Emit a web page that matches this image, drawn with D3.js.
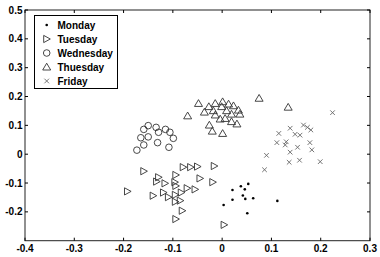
<!DOCTYPE html>
<html><head><meta charset="utf-8">
<script src="https://cdn.jsdelivr.net/npm/d3@7"></script>
<style>body{margin:0;background:#fff}svg{display:block}text{font-family:"Liberation Sans",Arial,sans-serif;font-weight:bold}</style>
</head><body><svg id="c" width="380" height="257"></svg>
<script>
const seriesNames = ["Monday","Tuesday","Wednesday","Thuesday","Friday"];
const xTicks = [-0.4,-0.3,-0.2,-0.1,0,0.1,0.2,0.3];
const yTicks = [-0.2,-0.1,0,0.1,0.2,0.3,0.4,0.5];

const mondayX = [0.053,0.038,0.021,0.046,0.042,0.021,0.047,0.063,0.003,0.112,0.051];
const mondayY = [-0.103,-0.111,-0.124,-0.122,-0.143,-0.158,-0.155,-0.153,-0.176,-0.162,-0.205];

const tuesdayX = [-0.159,-0.192,-0.129,-0.133,-0.116,-0.094,-0.096,-0.094,-0.079,-0.064,-0.050,-0.016,-0.045,-0.019,-0.140,-0.119,-0.109,-0.095,-0.083,-0.071,-0.055,-0.095,-0.085,-0.081,-0.094,0.004];
const tuesdayY = [-0.059,-0.129,-0.080,-0.095,-0.101,-0.072,-0.097,-0.110,-0.045,-0.045,-0.043,-0.041,-0.084,-0.097,-0.144,-0.133,-0.149,-0.141,-0.133,-0.118,-0.122,-0.165,-0.161,-0.196,-0.225,-0.245];

const wednesdayX = [-0.150,-0.159,-0.134,-0.129,-0.115,-0.106,-0.099,-0.165,-0.150,-0.159,-0.131,-0.173,-0.108];
const wednesdayY = [0.099,0.086,0.093,0.076,0.086,0.076,0.055,0.057,0.060,0.032,0.040,0.014,0.024];

const thuesdayX = [-0.048,-0.070,-0.027,-0.014,0.001,0.013,0.023,-0.036,-0.018,-0.001,0.009,0.033,0.019,0.036,-0.014,-0.004,0.006,0.019,0.030,-0.026,-0.020,0.001,0.075,0.134];
const thuesdayY = [0.176,0.133,0.165,0.176,0.182,0.174,0.168,0.146,0.151,0.165,0.151,0.153,0.139,0.139,0.136,0.122,0.124,0.113,0.105,0.101,0.080,0.072,0.194,0.163];

const fridayX = [0.224,0.138,0.165,0.173,0.180,0.115,0.148,0.158,0.111,0.130,0.128,0.153,0.178,0.182,0.138,0.090,0.136,0.157,0.199,0.086];
const fridayY = [0.144,0.090,0.101,0.093,0.084,0.072,0.069,0.066,0.040,0.043,0.032,0.024,0.040,0.015,0.007,-0.004,-0.028,-0.021,-0.026,-0.054];

const svg = d3.select("#c");
const x = d3.scaleLinear().domain([-0.4,0.3]).range([25,370]);
const y = d3.scaleLinear().domain([-0.3,0.5]).range([240.7,10]);
const fmt = v => Math.abs(v) < 1e-9 ? "0" : v.toFixed(1);

// frame
svg.append("rect").attr("x",x(-0.4)).attr("y",y(0.5)).attr("width",x(0.3)-x(-0.4)).attr("height",y(-0.3)-y(0.5))
  .attr("fill","#fff").attr("stroke","#222").attr("stroke-width",1);

const tl = 3;
const g = svg.append("g");
xTicks.forEach(v=>{
  g.append("line").attr("x1",x(v)).attr("x2",x(v)).attr("y1",y(-0.3)).attr("y2",y(-0.3)-tl).attr("stroke","#000");
  g.append("line").attr("x1",x(v)).attr("x2",x(v)).attr("y1",y(0.5)).attr("y2",y(0.5)+tl).attr("stroke","#000");
  g.append("text").attr("x",x(v)).attr("y",252).attr("text-anchor","middle").attr("font-size",10).text(fmt(v));
});
yTicks.forEach(v=>{
  g.append("line").attr("x1",x(-0.4)).attr("x2",x(-0.4)+tl).attr("y1",y(v)).attr("y2",y(v)).attr("stroke","#000");
  g.append("line").attr("x1",x(0.3)).attr("x2",x(0.3)-tl).attr("y1",y(v)).attr("y2",y(v)).attr("stroke","#000");
  g.append("text").attr("x",22.5).attr("y",y(v)+3.5).attr("text-anchor","end").attr("font-size",10).text(fmt(v));
});

function marker(sel, kind){
  const col = "#333";
  if(kind===0){ sel.append("circle").attr("r",1.3).attr("fill","#000"); }
  else if(kind===1){ sel.append("path").attr("d","M-3,-3.6L3.6,0L-3,3.6Z").attr("fill","none").attr("stroke",col).attr("stroke-width",0.9); }
  else if(kind===2){ sel.append("circle").attr("r",3.3).attr("fill","none").attr("stroke",col).attr("stroke-width",0.9); }
  else if(kind===3){ sel.append("path").attr("d","M0,-3.8L4,3L-4,3Z").attr("fill","none").attr("stroke",col).attr("stroke-width",0.9); }
  else { sel.append("path").attr("d","M-2.3,-2.3L2.3,2.3M-2.3,2.3L2.3,-2.3").attr("fill","none").attr("stroke","#666").attr("stroke-width",0.9); }
}

const series = [[mondayX,mondayY],[tuesdayX,tuesdayY],[wednesdayX,wednesdayY],[thuesdayX,thuesdayY],[fridayX,fridayY]];
series.forEach((s,k)=>{
  s[0].forEach((xv,i)=>{
    const m = svg.append("g").attr("transform",`translate(${x(xv)},${y(s[1][i])})`);
    marker(m,k);
  });
});

// legend
const lg = svg.append("g");
lg.append("rect").attr("x",34.5).attr("y",15.5).attr("width",83).attr("height",73).attr("fill","#fff").attr("stroke","#000");
seriesNames.forEach((n,i)=>{
  const yy = 25 + i*14;
  marker(lg.append("g").attr("transform",`translate(46.7,${yy})`), i);
  lg.append("text").attr("x",57.5).attr("y",yy+3.6).attr("font-size",10).text(n);
});
</script></body></html>
